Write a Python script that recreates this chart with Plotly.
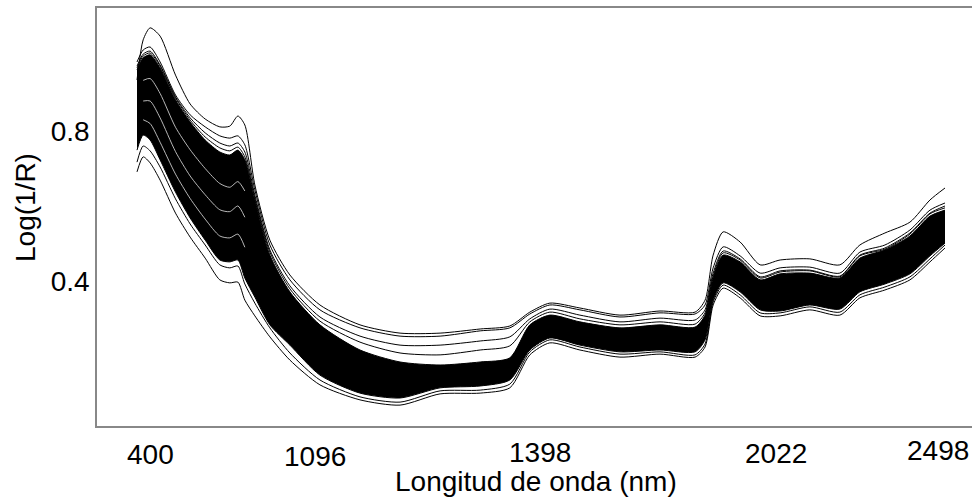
import plotly.graph_objects as go

# Wavelength grid (nm) at which the spectra were read
WAVELENGTH = [400, 416, 434, 460, 500, 538, 577, 615, 641, 662, 680, 706, 745, 797, 875,
              979, 1083, 1187, 1291, 1368, 1420, 1472, 1550, 1654, 1758, 1849, 1875, 1896,
              1922, 1966, 2018, 2070, 2147, 2225, 2277, 2342, 2407, 2459, 2498]

# Individual spectra (Log(1/R))
SPEC_TOP = [0.936, 1.043, 1.075, 1.053, 0.949, 0.872, 0.832, 0.811, 0.813, 0.840, 0.816, 0.656, 0.509,
            0.416, 0.336, 0.283, 0.261, 0.261, 0.272, 0.280, 0.317, 0.341, 0.328, 0.309, 0.320, 0.317,
            0.349, 0.469, 0.531, 0.504, 0.443, 0.456, 0.459, 0.443, 0.496, 0.528, 0.557, 0.616, 0.648]
SPEC_UPPER = [0.984, 1.016, 1.024, 0.984, 0.896, 0.843, 0.811, 0.787, 0.781, 0.787, 0.763, 0.643, 0.496,
              0.403, 0.323, 0.275, 0.253, 0.253, 0.267, 0.275, 0.312, 0.336, 0.323, 0.304, 0.315, 0.312,
              0.336, 0.435, 0.491, 0.467, 0.421, 0.435, 0.437, 0.421, 0.477, 0.496, 0.536, 0.589, 0.608]
SPEC_A = [0.973, 1.005, 1.013, 0.976, 0.891, 0.835, 0.795, 0.768, 0.760, 0.768, 0.744, 0.629, 0.483,
          0.387, 0.304, 0.253, 0.229, 0.229, 0.240, 0.251, 0.299, 0.325, 0.309, 0.291, 0.301, 0.296,
          0.323, 0.421, 0.480, 0.459, 0.411, 0.427, 0.429, 0.413, 0.469, 0.488, 0.528, 0.581, 0.600]
SPEC_B = [0.968, 1.000, 1.008, 0.973, 0.888, 0.829, 0.784, 0.755, 0.747, 0.757, 0.731, 0.621, 0.477,
          0.379, 0.293, 0.237, 0.208, 0.203, 0.216, 0.227, 0.291, 0.317, 0.299, 0.283, 0.291, 0.285,
          0.315, 0.413, 0.475, 0.456, 0.408, 0.424, 0.427, 0.411, 0.467, 0.485, 0.525, 0.579, 0.595]
SPEC_C = [0.717, 0.760, 0.747, 0.704, 0.619, 0.552, 0.496, 0.443, 0.435, 0.440, 0.392, 0.341, 0.275,
          0.208, 0.136, 0.091, 0.077, 0.107, 0.109, 0.125, 0.211, 0.243, 0.224, 0.205, 0.211, 0.203,
          0.232, 0.344, 0.389, 0.363, 0.315, 0.315, 0.331, 0.317, 0.363, 0.384, 0.411, 0.459, 0.496]
SPEC_LOWER = [0.691, 0.731, 0.715, 0.669, 0.581, 0.517, 0.461, 0.403, 0.395, 0.397, 0.349, 0.307, 0.251,
              0.189, 0.123, 0.083, 0.069, 0.099, 0.101, 0.115, 0.203, 0.235, 0.216, 0.197, 0.205, 0.197,
              0.224, 0.336, 0.381, 0.355, 0.307, 0.307, 0.323, 0.309, 0.355, 0.376, 0.403, 0.451, 0.488]

# Dense core of the bundle (where the many spectra overlap)
CORE_UPPER = [0.963, 0.995, 1.003, 0.968, 0.883, 0.824, 0.776, 0.744, 0.736, 0.749, 0.723, 0.616, 0.469,
              0.371, 0.283, 0.216, 0.184, 0.176, 0.184, 0.195, 0.283, 0.309, 0.291, 0.275, 0.283, 0.277,
              0.309, 0.408, 0.469, 0.451, 0.403, 0.419, 0.421, 0.408, 0.461, 0.483, 0.520, 0.573, 0.589]
CORE_LOWER = [0.749, 0.789, 0.776, 0.723, 0.637, 0.568, 0.509, 0.456, 0.451, 0.456, 0.408, 0.357, 0.283,
              0.229, 0.149, 0.101, 0.088, 0.115, 0.120, 0.136, 0.216, 0.248, 0.229, 0.211, 0.216, 0.211,
              0.243, 0.349, 0.395, 0.371, 0.323, 0.320, 0.336, 0.325, 0.371, 0.392, 0.419, 0.467, 0.501]

# Visible white gaps between spectra in the 416-680 nm part of the bundle
GAP_WAVELENGTH = [416, 434, 460, 500, 538, 577, 615, 641, 662, 680]
GAP_1 = [0.935, 0.940, 0.900, 0.810, 0.750, 0.700, 0.660, 0.650, 0.665, 0.640]
GAP_2 = [0.880, 0.880, 0.835, 0.745, 0.680, 0.630, 0.590, 0.585, 0.600, 0.570]
GAP_3 = [0.830, 0.820, 0.770, 0.685, 0.620, 0.565, 0.520, 0.515, 0.525, 0.490]

# Axis tick labels as shown in the picture
X_TICK_POS = [434, 862, 1446, 2059, 2480]
X_TICK_TEXT = ["400", "1096", "1398", "2022", "2498"]
X_TICK_SHIFT = [-28, -30, -26, -27, -24]
Y_TICK_VALS = [0.4, 0.8]
Y_TICK_TEXT = ["0.4", "0.8"]

FONT = "Arial, Liberation Sans, sans-serif"
LINE = dict(color="black", width=1, shape="spline", smoothing=0.7)

fig = go.Figure()

fig.add_trace(go.Scatter(x=WAVELENGTH, y=CORE_UPPER, mode="lines", line=LINE,
                         showlegend=False, hoverinfo="skip"))
fig.add_trace(go.Scatter(x=WAVELENGTH, y=CORE_LOWER, mode="lines", line=LINE,
                         fill="tonexty", fillcolor="black", showlegend=False, hoverinfo="skip"))

for gap in [GAP_1, GAP_2, GAP_3]:
    fig.add_trace(go.Scatter(x=GAP_WAVELENGTH, y=gap, mode="lines",
                             line=dict(color="white", width=0.9, shape="spline", smoothing=0.7),
                             opacity=0.8, showlegend=False, hoverinfo="skip"))

for spec in [SPEC_TOP, SPEC_UPPER, SPEC_A, SPEC_B, SPEC_C, SPEC_LOWER]:
    fig.add_trace(go.Scatter(x=WAVELENGTH, y=spec, mode="lines", line=LINE,
                             showlegend=False))

annotations = []
for pos, txt, sh in zip(X_TICK_POS, X_TICK_TEXT, X_TICK_SHIFT):
    annotations.append(dict(x=pos, xref="x", y=0, yref="paper", text=txt, showarrow=False,
                            xanchor="center", yanchor="middle", yshift=sh,
                            font=dict(family=FONT, size=28, color="black")))
annotations.append(dict(x=0.5, xref="paper", y=0, yref="paper", text="Longitud de onda (nm)",
                        showarrow=False, xanchor="center", yanchor="middle", yshift=-55, xshift=1,
                        font=dict(family=FONT, size=28, color="black")))
annotations.append(dict(x=0, xref="paper", y=0.5, yref="paper", text="Log(1/R)", textangle=-90,
                        showarrow=False, xanchor="center", yanchor="middle", xshift=-72, yshift=9,
                        font=dict(family=FONT, size=28, color="black")))

fig.update_layout(
    width=972, height=501,
    margin=dict(l=97, r=0, t=8, b=75),
    plot_bgcolor="white", paper_bgcolor="white",
    showlegend=False,
    annotations=annotations,
    xaxis=dict(range=[296.14, 2568.1], showgrid=False, zeroline=False, showline=True,
               linecolor="#888888", linewidth=1.5, mirror=True, showticklabels=False, ticks=""),
    yaxis=dict(range=[0.0133, 1.128], showgrid=False, zeroline=False, showline=True,
               linecolor="#888888", linewidth=1.5, mirror=False, ticks="",
               tickvals=Y_TICK_VALS, ticktext=Y_TICK_TEXT, ticklabelstandoff=0,
               tickfont=dict(family=FONT, size=28, color="black")),
)

fig.write_html("out.html")
